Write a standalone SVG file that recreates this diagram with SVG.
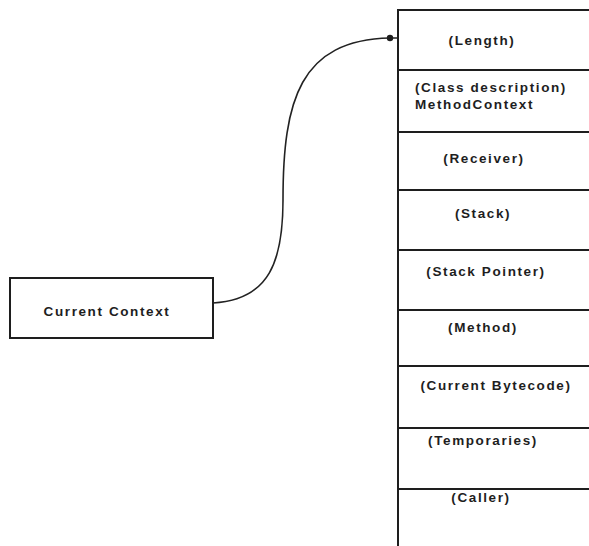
<svg xmlns="http://www.w3.org/2000/svg" width="589" height="546" viewBox="0 0 589 546">
  <style>
    .box { fill: none; stroke: #1e1e1e; stroke-width: 2; }
    .div { stroke: #1e1e1e; stroke-width: 2; }
    .lbl { font-family: "Liberation Sans", Arial, sans-serif; font-weight: bold; font-size: 13.5px; letter-spacing: 1.6px; fill: #1e1e1e; text-anchor: middle; }
    .lbl-l { text-anchor: start; }
    .conn { fill: none; stroke: #222; stroke-width: 1.6; }
  </style>
  <rect width="589" height="546" fill="#ffffff"/>

  <g id="current-context">
    <rect class="box" x="10" y="278" width="203" height="60"/>
    <text class="lbl" x="107" y="316">Current Context</text>
  </g>

  <g id="method-context">
    <path class="box" d="M600,10 L398,10 L398,560"/>
    <line class="div" x1="398" y1="70" x2="600" y2="70"/>
    <line class="div" x1="398" y1="132" x2="600" y2="132"/>
    <line class="div" x1="398" y1="190" x2="600" y2="190"/>
    <line class="div" x1="398" y1="250" x2="600" y2="250"/>
    <line class="div" x1="398" y1="310" x2="600" y2="310"/>
    <line class="div" x1="398" y1="366" x2="600" y2="366"/>
    <line class="div" x1="398" y1="428" x2="600" y2="428"/>
    <line class="div" x1="398" y1="489" x2="600" y2="489"/>
  </g>

  <g id="field-length"><text class="lbl" x="482" y="45">(Length)</text></g>
  <g id="field-class">
    <text class="lbl lbl-l" x="415" y="92">(Class description)</text>
    <text class="lbl lbl-l" x="415" y="109">MethodContext</text>
  </g>
  <g id="field-receiver"><text class="lbl" x="484" y="163">(Receiver)</text></g>
  <g id="field-stack"><text class="lbl" x="483" y="218">(Stack)</text></g>
  <g id="field-stack-pointer"><text class="lbl" x="486" y="276">(Stack Pointer)</text></g>
  <g id="field-method"><text class="lbl" x="483" y="332">(Method)</text></g>
  <g id="field-bytecode"><text class="lbl" x="496" y="390">(Current Bytecode)</text></g>
  <g id="field-temporaries"><text class="lbl" x="483" y="445">(Temporaries)</text></g>
  <g id="field-caller"><text class="lbl" x="481" y="502">(Caller)</text></g>

  <g id="connectors">
    <path class="conn" d="M213,303 C270,300 283,260 283,200 C283,100 300,40 390,38 L398,38"/>
    <circle cx="390" cy="38" r="3.2" fill="#1e1e1e"/>
  </g>
</svg>
